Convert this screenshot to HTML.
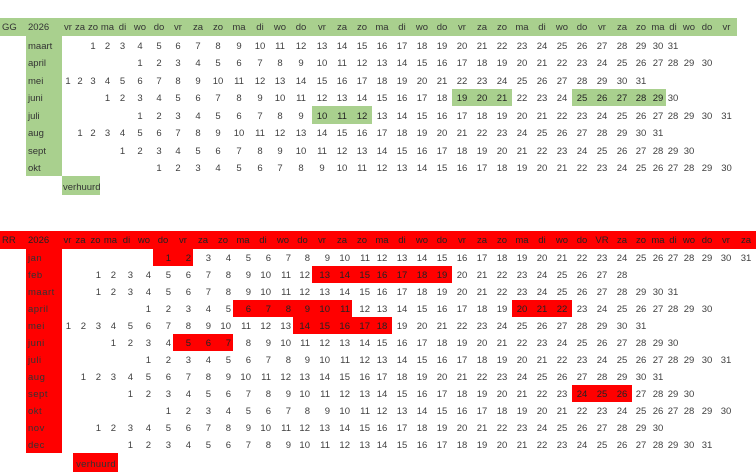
<!DOCTYPE html>
<html><head><meta charset="utf-8"><style>
html,body{margin:0;padding:0;background:#fff;width:756px;height:473px;overflow:hidden}
table{position:absolute;left:0;border-collapse:collapse;table-layout:fixed;font-family:"Liberation Sans",sans-serif;font-size:9.5px;color:#404040}
td{padding:0 0 2px 0;white-space:nowrap;overflow:visible;text-align:center;vertical-align:bottom;box-sizing:border-box;line-height:11px}
#g{top:18px;width:737px}
#g td{height:17.5px}
#g tr.h td{height:18px;background:#a9d08e;color:#333;padding-bottom:3px}
#g td.m{background:#a9d08e;text-align:left;padding-left:2px;color:#333}
#g td.f{background:#a9d08e;color:#222}
#g td.v{background:#a9d08e;text-align:left;padding-left:1px;color:#333}
#g tr.last td{height:19px}
#r{top:231px;width:756px}
#r td{height:17px}
#r tr.h td{height:18px;background:#f00;color:#222;text-align:center;padding-bottom:3px}
#r td:nth-child(n+3):nth-child(-n+19){text-align:right;padding-right:2px}
#r tr.h td:nth-child(n+1){text-align:center;padding-right:0}
#r td.m{background:#f00;text-align:left;padding-left:2px;color:#333;letter-spacing:0.5px}
#r td.f{background:#f00;color:#222}
#r td.v{background:#f00;text-align:left;padding-left:1px;color:#333;letter-spacing:0.3px}
#r tr.last td{height:19px}
td.a{text-align:left!important;padding-left:2px}
</style></head><body>
<table id="g">
<colgroup><col style="width:26px"><col style="width:36px"><col style="width:12px"><col style="width:12px"><col style="width:14px"><col style="width:15px"><col style="width:15px"><col style="width:20px"><col style="width:18px"><col style="width:20px"><col style="width:20px"><col style="width:20px"><col style="width:22px"><col style="width:20px"><col style="width:20px"><col style="width:22px"><col style="width:20px"><col style="width:20px"><col style="width:20px"><col style="width:20px"><col style="width:20px"><col style="width:20px"><col style="width:20px"><col style="width:20px"><col style="width:20px"><col style="width:20px"><col style="width:20px"><col style="width:20px"><col style="width:20px"><col style="width:20px"><col style="width:20px"><col style="width:20px"><col style="width:18px"><col style="width:16px"><col style="width:14px"><col style="width:18px"><col style="width:18px"><col style="width:21px"></colgroup>
<tr class="h"><td class="a">GG<td class="a">2026<td>vr<td>za<td>zo<td>ma<td>di<td>wo<td>do<td>vr<td>za<td>zo<td>ma<td>di<td>wo<td>do<td>vr<td>za<td>zo<td>ma<td>di<td>wo<td>do<td>vr<td>za<td>zo<td>ma<td>di<td>wo<td>do<td>vr<td>za<td>zo<td>ma<td>di<td>wo<td>do<td>vr</tr>
<tr><td><td class="m">maart<td><td><td>1<td>2<td>3<td>4<td>5<td>6<td>7<td>8<td>9<td>10<td>11<td>12<td>13<td>14<td>15<td>16<td>17<td>18<td>19<td>20<td>21<td>22<td>23<td>24<td>25<td>26<td>27<td>28<td>29<td>30<td>31<td><td><td></tr>
<tr><td><td class="m">april<td><td><td><td><td><td>1<td>2<td>3<td>4<td>5<td>6<td>7<td>8<td>9<td>10<td>11<td>12<td>13<td>14<td>15<td>16<td>17<td>18<td>19<td>20<td>21<td>22<td>23<td>24<td>25<td>26<td>27<td>28<td>29<td>30<td></tr>
<tr><td><td class="m">mei<td>1<td>2<td>3<td>4<td>5<td>6<td>7<td>8<td>9<td>10<td>11<td>12<td>13<td>14<td>15<td>16<td>17<td>18<td>19<td>20<td>21<td>22<td>23<td>24<td>25<td>26<td>27<td>28<td>29<td>30<td>31<td><td><td><td><td></tr>
<tr><td><td class="m">juni<td><td><td><td>1<td>2<td>3<td>4<td>5<td>6<td>7<td>8<td>9<td>10<td>11<td>12<td>13<td>14<td>15<td>16<td>17<td>18<td class="f">19<td class="f">20<td class="f">21<td>22<td>23<td>24<td class="f">25<td class="f">26<td class="f">27<td class="f">28<td class="f">29<td>30<td><td><td></tr>
<tr><td><td class="m">juli<td><td><td><td><td><td>1<td>2<td>3<td>4<td>5<td>6<td>7<td>8<td>9<td class="f">10<td class="f">11<td class="f">12<td>13<td>14<td>15<td>16<td>17<td>18<td>19<td>20<td>21<td>22<td>23<td>24<td>25<td>26<td>27<td>28<td>29<td>30<td>31</tr>
<tr><td><td class="m">aug<td><td>1<td>2<td>3<td>4<td>5<td>6<td>7<td>8<td>9<td>10<td>11<td>12<td>13<td>14<td>15<td>16<td>17<td>18<td>19<td>20<td>21<td>22<td>23<td>24<td>25<td>26<td>27<td>28<td>29<td>30<td>31<td><td><td><td></tr>
<tr><td><td class="m">sept<td><td><td><td><td>1<td>2<td>3<td>4<td>5<td>6<td>7<td>8<td>9<td>10<td>11<td>12<td>13<td>14<td>15<td>16<td>17<td>18<td>19<td>20<td>21<td>22<td>23<td>24<td>25<td>26<td>27<td>28<td>29<td>30<td><td><td></tr>
<tr><td><td class="m">okt<td><td><td><td><td><td><td>1<td>2<td>3<td>4<td>5<td>6<td>7<td>8<td>9<td>10<td>11<td>12<td>13<td>14<td>15<td>16<td>17<td>18<td>19<td>20<td>21<td>22<td>23<td>24<td>25<td>26<td>27<td>28<td>29<td>30</tr>
<tr class="last"><td><td><td class="v" colspan="3">verhuurd<td></tr>
</table>

<table id="r">
<colgroup><col style="width:26px"><col style="width:36px"><col style="width:11px"><col style="width:15px"><col style="width:15px"><col style="width:15px"><col style="width:17px"><col style="width:18px"><col style="width:20px"><col style="width:20px"><col style="width:20px"><col style="width:20px"><col style="width:20px"><col style="width:20px"><col style="width:20px"><col style="width:19px"><col style="width:20px"><col style="width:20px"><col style="width:20px"><col style="width:20px"><col style="width:20px"><col style="width:20px"><col style="width:20px"><col style="width:20px"><col style="width:20px"><col style="width:20px"><col style="width:20px"><col style="width:20px"><col style="width:20px"><col style="width:20px"><col style="width:20px"><col style="width:20px"><col style="width:18px"><col style="width:16px"><col style="width:14px"><col style="width:18px"><col style="width:18px"><col style="width:20px"><col style="width:20px"></colgroup>
<tr class="h"><td class="a">RR<td class="a">2026<td>vr<td>za<td>zo<td>ma<td>di<td>wo<td>do<td>vr<td>za<td>zo<td>ma<td>di<td>wo<td>do<td>vr<td>za<td>zo<td>ma<td>di<td>wo<td>do<td>vr<td>za<td>zo<td>ma<td>di<td>wo<td>do<td>VR<td>za<td>zo<td>ma<td>di<td>wo<td>do<td>vr<td>za</tr>
<tr><td><td class="m">jan<td><td><td><td><td><td><td class="f">1<td class="f">2<td>3<td>4<td>5<td>6<td>7<td>8<td>9<td>10<td>11<td>12<td>13<td>14<td>15<td>16<td>17<td>18<td>19<td>20<td>21<td>22<td>23<td>24<td>25<td>26<td>27<td>28<td>29<td>30<td>31</tr>
<tr><td><td class="m">feb<td><td><td>1<td>2<td>3<td>4<td>5<td>6<td>7<td>8<td>9<td>10<td>11<td>12<td class="f">13<td class="f">14<td class="f">15<td class="f">16<td class="f">17<td class="f">18<td class="f">19<td>20<td>21<td>22<td>23<td>24<td>25<td>26<td>27<td>28<td><td><td><td><td><td><td><td></tr>
<tr><td><td class="m">maart<td><td><td>1<td>2<td>3<td>4<td>5<td>6<td>7<td>8<td>9<td>10<td>11<td>12<td>13<td>14<td>15<td>16<td>17<td>18<td>19<td>20<td>21<td>22<td>23<td>24<td>25<td>26<td>27<td>28<td>29<td>30<td>31<td><td><td><td></tr>
<tr><td><td class="m">april<td><td><td><td><td><td>1<td>2<td>3<td>4<td>5<td class="f">6<td class="f">7<td class="f">8<td class="f">9<td class="f">10<td class="f">11<td>12<td>13<td>14<td>15<td>16<td>17<td>18<td>19<td class="f">20<td class="f">21<td class="f">22<td>23<td>24<td>25<td>26<td>27<td>28<td>29<td>30<td><td></tr>
<tr><td><td class="m">mei<td>1<td>2<td>3<td>4<td>5<td>6<td>7<td>8<td>9<td>10<td>11<td>12<td>13<td class="f">14<td class="f">15<td class="f">16<td class="f">17<td class="f">18<td>19<td>20<td>21<td>22<td>23<td>24<td>25<td>26<td>27<td>28<td>29<td>30<td>31<td><td><td><td><td><td></tr>
<tr><td><td class="m">juni<td><td><td><td>1<td>2<td>3<td>4<td class="f">5<td class="f">6<td class="f">7<td>8<td>9<td>10<td>11<td>12<td>13<td>14<td>15<td>16<td>17<td>18<td>19<td>20<td>21<td>22<td>23<td>24<td>25<td>26<td>27<td>28<td>29<td>30<td><td><td><td></tr>
<tr><td><td class="m">juli<td><td><td><td><td><td>1<td>2<td>3<td>4<td>5<td>6<td>7<td>8<td>9<td>10<td>11<td>12<td>13<td>14<td>15<td>16<td>17<td>18<td>19<td>20<td>21<td>22<td>23<td>24<td>25<td>26<td>27<td>28<td>29<td>30<td>31<td></tr>
<tr><td><td class="m">aug<td><td>1<td>2<td>3<td>4<td>5<td>6<td>7<td>8<td>9<td>10<td>11<td>12<td>13<td>14<td>15<td>16<td>17<td>18<td>19<td>20<td>21<td>22<td>23<td>24<td>25<td>26<td>27<td>28<td>29<td>30<td>31<td><td><td><td><td></tr>
<tr><td><td class="m">sept<td><td><td><td><td>1<td>2<td>3<td>4<td>5<td>6<td>7<td>8<td>9<td>10<td>11<td>12<td>13<td>14<td>15<td>16<td>17<td>18<td>19<td>20<td>21<td>22<td>23<td class="f">24<td class="f">25<td class="f">26<td>27<td>28<td>29<td>30<td><td><td></tr>
<tr><td><td class="m">okt<td><td><td><td><td><td><td>1<td>2<td>3<td>4<td>5<td>6<td>7<td>8<td>9<td>10<td>11<td>12<td>13<td>14<td>15<td>16<td>17<td>18<td>19<td>20<td>21<td>22<td>23<td>24<td>25<td>26<td>27<td>28<td>29<td>30<td></tr>
<tr><td><td class="m">nov<td><td><td>1<td>2<td>3<td>4<td>5<td>6<td>7<td>8<td>9<td>10<td>11<td>12<td>13<td>14<td>15<td>16<td>17<td>18<td>19<td>20<td>21<td>22<td>23<td>24<td>25<td>26<td>27<td>28<td>29<td>30<td><td><td><td><td></tr>
<tr><td><td class="m">dec<td><td><td><td><td>1<td>2<td>3<td>4<td>5<td>6<td>7<td>8<td>9<td>10<td>11<td>12<td>13<td>14<td>15<td>16<td>17<td>18<td>19<td>20<td>21<td>22<td>23<td>24<td>25<td>26<td>27<td>28<td>29<td>30<td>31<td><td></tr>
<tr class="last"><td><td><td><td class="v" colspan="3">verhuurd<td></tr>
</table>
</body></html>
